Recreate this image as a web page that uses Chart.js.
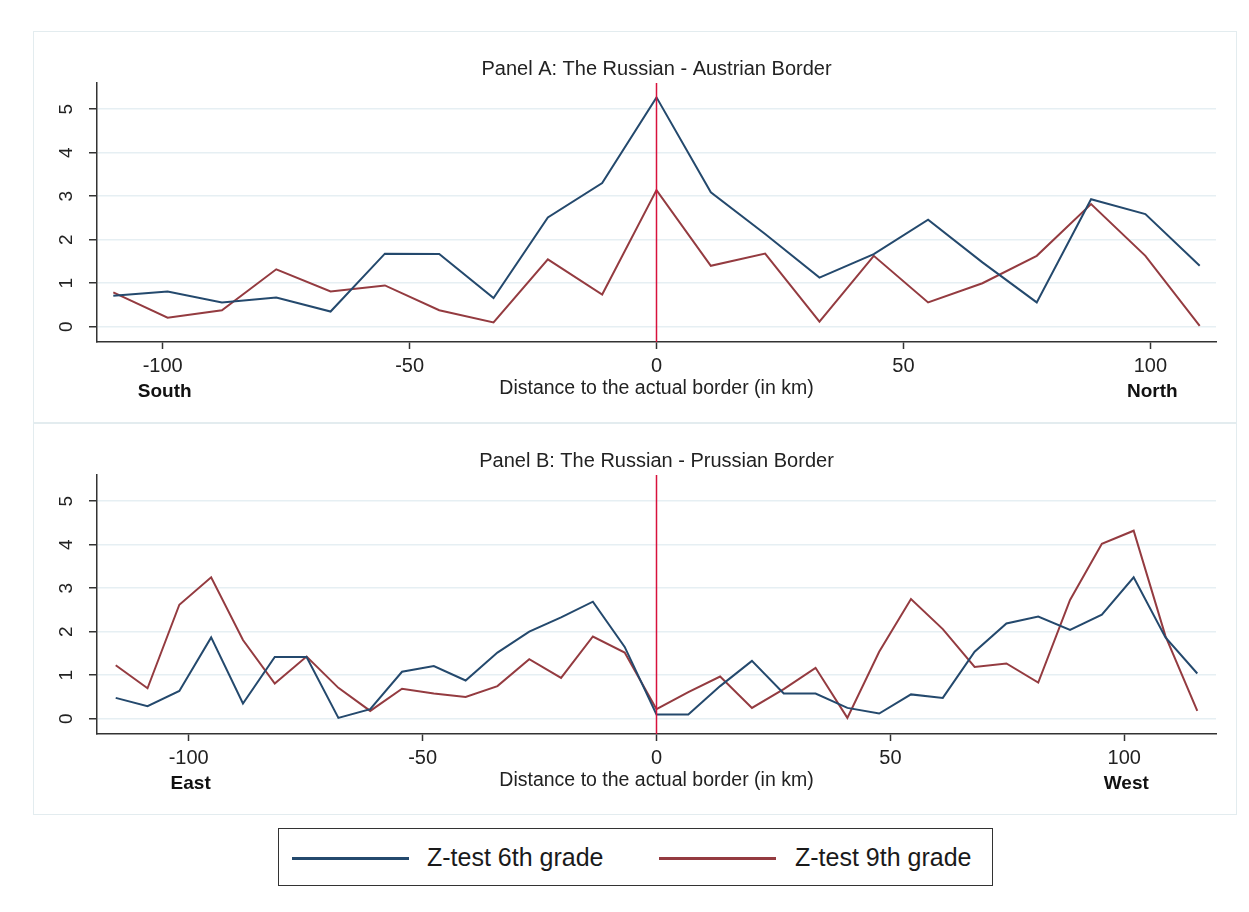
<!DOCTYPE html>
<html>
<head>
<meta charset="utf-8">
<script src="https://cdn.jsdelivr.net/npm/chart.js@4/dist/chart.umd.min.js"></script>
<style>
  body{ margin:0; background:#fff; width:1249px; height:912px; position:relative; font-family:"Liberation Sans", Arial, sans-serif; overflow:hidden; }
  .panel{ position:absolute; left:33px; width:1204px; height:392px; border:1px solid #e3ecef; box-sizing:border-box; }
  #boxA{ top:31px; }
  #boxB{ top:423px; }
  .panel canvas{ position:absolute; left:0; top:0; }
  #legend{ position:absolute; left:278px; top:828px; width:715px; height:58px; border:1.5px solid #333; box-sizing:border-box; }
  .lg-line{ position:absolute; top:28px; width:117px; height:3px; }
  .lg-txt{ position:absolute; top:13px; font-size:25px; color:#1a1a1a; line-height:30px; }
</style>
</head>
<body>
<div class="panel" id="boxA"><canvas id="chartA" width="1204" height="392"></canvas></div>
<div class="panel" id="boxB"><canvas id="chartB" width="1204" height="392"></canvas></div>
<div id="legend">
  <div class="lg-line" style="left:13px;background:#24496d"></div>
  <div class="lg-txt" style="left:148px">Z-test 6th grade</div>
  <div class="lg-line" style="left:380px;background:#943b40"></div>
  <div class="lg-txt" style="left:516px">Z-test 9th grade</div>
</div>
<script>
/* ---------- data ---------- */
// Panel A: Russian - Austrian border (km)
const distA = [-110,-99,-88,-77,-66,-55,-44,-33,-22,-11,0,11,22,33,44,55,66,77,88,99,110];
const zA6 = [0.71,0.81,0.56,0.67,0.35,1.68,1.67,0.66,2.51,3.30,5.27,3.09,2.13,1.13,1.67,2.46,1.48,0.56,2.93,2.59,1.40];
const zA9 = [0.79,0.21,0.38,1.32,0.81,0.95,0.38,0.10,1.55,0.74,3.14,1.40,1.68,0.12,1.63,0.56,1.00,1.63,2.82,1.63,0.02];

// Panel B: Russian - Prussian border (km)
const distB = [-115.6,-108.8,-102,-95.2,-88.4,-81.6,-74.8,-68,-61.2,-54.4,-47.6,-40.8,-34,-27.2,-20.4,-13.6,-6.8,0,
               6.8,13.6,20.4,27.2,34,40.8,47.6,54.4,61.2,68,74.8,81.6,88.4,95.2,102,108.8,115.6];
const zB6 = [0.48,0.29,0.64,1.87,0.35,1.42,1.42,0.02,0.22,1.08,1.21,0.88,1.52,2.00,2.33,2.69,1.65,0.10,
             0.10,0.75,1.33,0.58,0.58,0.25,0.12,0.56,0.48,1.54,2.19,2.35,2.04,2.39,3.25,1.87,1.04];
const zB9 = [1.23,0.70,2.62,3.25,1.81,0.81,1.43,0.71,0.18,0.69,0.58,0.50,0.75,1.37,0.94,1.89,1.52,0.22,
             0.61,0.97,0.25,0.68,1.17,0.02,1.54,2.75,2.06,1.19,1.27,0.83,2.73,4.02,4.32,1.90,0.18];

const xTicks = [-100,-50,0,50,100];
const yTicks = [0,1,2,3,4,5];
const seriesNames = ['Z-test 6th grade','Z-test 9th grade'];

const FONT = '"Liberation Sans", Arial, sans-serif';
const BLUE = '#24496d', MAROON = '#943b40', BORDER = '#d8123c';

/* ---------- helpers ---------- */
function pts(xs, ys){ return xs.map((x,i)=>({x:x, y:ys[i]})); }

// vertical border line + rotated y labels + direction words
const extras = {
  id:'extras',
  afterDatasetsDraw(chart, args, opts){
    const ctx = chart.ctx, ca = chart.chartArea;
    const x0 = chart.scales.x.getPixelForValue(0);
    ctx.save();
    ctx.strokeStyle = BORDER; ctx.lineWidth = 1.5;
    ctx.beginPath(); ctx.moveTo(x0, ca.top); ctx.lineTo(x0, ca.bottom); ctx.stroke();
    ctx.restore();
  },
  afterDraw(chart, args, opts){
    const ctx = chart.ctx, ca = chart.chartArea;
    const xs = chart.scales.x, ys = chart.scales.y;
    ctx.save();
    ctx.fillStyle = '#222';
    ctx.font = '19px ' + FONT;
    ctx.textAlign = 'center'; ctx.textBaseline = 'middle';
    yTicks.forEach(v=>{
      ctx.save();
      ctx.translate(ca.left - 30, ys.getPixelForValue(v));
      ctx.rotate(-Math.PI/2);
      ctx.fillText(String(v), 0, 0);
      ctx.restore();
    });
    ctx.font = 'bold 19px ' + FONT;
    ctx.fillStyle = '#111';
    ctx.fillText(opts.left, xs.getPixelForValue(-100) + opts.shift, ca.bottom + 50);
    ctx.fillText(opts.right, xs.getPixelForValue(100) + opts.shift, ca.bottom + 50);
    ctx.restore();
  }
};

function makePanel(id, title, xs, s6, s9, lim, words, shift){
  return new Chart(document.getElementById(id), {
    type:'line',
    data:{ datasets:[
      { label:seriesNames[0], data:pts(xs, s6), borderColor:BLUE, borderWidth:2, pointRadius:0, tension:0 },
      { label:seriesNames[1], data:pts(xs, s9), borderColor:MAROON, borderWidth:2, pointRadius:0, tension:0 }
    ]},
    options:{
      responsive:false, animation:false,
      layout:{ padding:{ left:0, right:22, top:0, bottom:0 } },
      plugins:{
        legend:{ display:false }, tooltip:{ enabled:false },
        title:{ display:true, fullSize:false, text:title, color:'#222', font:{ family:FONT, size:20, weight:'normal' }, padding:{ top:25, bottom:2 } },
        extras:{ left:words[0], right:words[1], shift:shift }
      },
      scales:{
        x:{
          type:'linear', min:-lim, max:lim,
          afterBuildTicks: s => { s.ticks = xTicks.map(v=>({value:v})); },
          afterFit: s => { s.height = 82; },
          border:{ color:'#333', width:1.5 },
          grid:{ drawOnChartArea:false, drawTicks:true, tickLength:7, tickColor:'#333', tickWidth:1.5 },
          ticks:{ color:'#222', font:{ family:FONT, size:20 }, padding:5, maxRotation:0 },
          title:{ display:true, text:'Distance to the actual border (in km)', color:'#222', font:{ family:FONT, size:19.5 }, padding:{ top:0, bottom:24 } }
        },
        y:{
          type:'linear', min:-0.35, max:5.6,
          afterBuildTicks: s => { s.ticks = yTicks.map(v=>({value:v})); },
          afterFit: s => { s.width = 63; },
          border:{ color:'#333', width:1.5 },
          grid:{ color:'#e6eff3', lineWidth:1.5, drawTicks:true, tickLength:8, tickColor:'#333', tickWidth:1.5 },
          ticks:{ display:false }
        }
      }
    },
    plugins:[extras]
  });
}

makePanel('chartA', 'Panel A: The Russian - Austrian Border', distA, zA6, zA9, 113.3, ['South','North'], 2);
makePanel('chartB', 'Panel B: The Russian - Prussian Border', distB, zB6, zB9, 119.6, ['East','West'], 2);
</script>
</body>
</html>
